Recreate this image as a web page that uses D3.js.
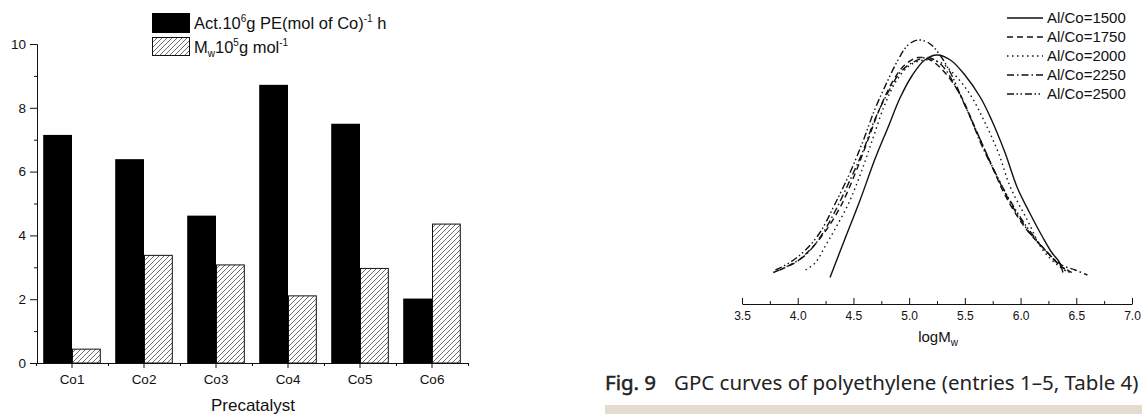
<!DOCTYPE html>
<html>
<head>
<meta charset="utf-8">
<script src="https://cdn.jsdelivr.net/npm/d3@7"></script>
<style>
  body { margin: 0; background: #fff; }
  svg { display: block; }
  .ax text { font-family: "Liberation Sans", Arial, sans-serif; fill: #111; }
  .ax path, .ax line { stroke: #111; stroke-width: 1; }
</style>
</head>
<body>
<svg id="fig" width="1142" height="414"></svg>
<script>
// bar chart data
const categories = ["Co1", "Co2", "Co3", "Co4", "Co5", "Co6"];
const activity = [7.15, 6.39, 4.62, 8.72, 7.5, 2.02];
const mwValues = [0.45, 3.39, 3.09, 2.12, 2.98, 4.37];
const barTicks = [0, 2, 4, 6, 8, 10];

// GPC curves [logMw, normalised intensity]
const gpc1500 = [[4.29,0.05],[4.42,0.20],[4.56,0.36],[4.69,0.52],[4.81,0.65],[4.92,0.77],[5.03,0.86],[5.14,0.92],[5.25,0.94],[5.37,0.92],[5.50,0.86],[5.64,0.77],[5.74,0.68],[5.86,0.55],[5.97,0.41],[6.08,0.31],[6.20,0.21],[6.28,0.15],[6.35,0.11],[6.38,0.07]];
const gpc1750 = [[3.84,0.08],[3.98,0.11],[4.11,0.16],[4.24,0.23],[4.38,0.33],[4.51,0.46],[4.63,0.60],[4.74,0.73],[4.86,0.84],[4.96,0.90],[5.08,0.93],[5.19,0.92],[5.32,0.87],[5.46,0.78],[5.59,0.65],[5.73,0.51],[5.86,0.38],[6.04,0.25],[6.22,0.16],[6.35,0.10],[6.44,0.07]];
const gpc2000 = [[4.07,0.08],[4.16,0.11],[4.24,0.17],[4.33,0.24],[4.45,0.34],[4.56,0.46],[4.67,0.60],[4.78,0.74],[4.89,0.84],[5.01,0.90],[5.14,0.92],[5.28,0.91],[5.41,0.86],[5.55,0.78],[5.68,0.67],[5.80,0.55],[5.91,0.41],[6.06,0.28],[6.20,0.16],[6.33,0.10],[6.43,0.07]];
const gpc2250 = [[3.78,0.07],[3.93,0.10],[4.07,0.14],[4.20,0.21],[4.33,0.31],[4.47,0.44],[4.59,0.56],[4.69,0.68],[4.81,0.79],[4.92,0.87],[5.03,0.91],[5.17,0.93],[5.29,0.90],[5.41,0.82],[5.53,0.71],[5.65,0.58],[5.78,0.46],[5.92,0.34],[6.08,0.23],[6.24,0.15],[6.37,0.10],[6.49,0.08],[6.60,0.06]];
const gpc2500 = [[3.80,0.08],[3.93,0.11],[4.07,0.16],[4.20,0.23],[4.33,0.34],[4.47,0.47],[4.59,0.60],[4.69,0.72],[4.80,0.83],[4.90,0.92],[4.99,0.98],[5.08,1.00],[5.17,0.99],[5.26,0.95],[5.37,0.87],[5.48,0.76],[5.61,0.63],[5.74,0.50],[5.89,0.37],[6.06,0.25],[6.22,0.16],[6.35,0.10],[6.46,0.07]];
const gpcLabels = ["Al/Co=1500", "Al/Co=1750", "Al/Co=2000", "Al/Co=2250", "Al/Co=2500"];
const logTicks = [3.5, 4.0, 4.5, 5.0, 5.5, 6.0, 6.5, 7.0];

const svg = d3.select("#fig");

const defs = svg.append("defs");
defs.append("pattern")
  .attr("id", "hatch")
  .attr("patternUnits", "userSpaceOnUse")
  .attr("width", 5).attr("height", 5)
  .call(p => {
    p.append("rect").attr("width", 5).attr("height", 5).attr("fill", "#fff");
    p.append("path")
      .attr("d", "M-1,1 l2,-2 M0,5 l5,-5 M4,6 l2,-2")
      .attr("stroke", "#444").attr("stroke-width", 0.8);
  });

// ---------- left: bar chart ----------
const x = d3.scaleBand().domain(categories).range([36, 468])
  .paddingInner(0.2).paddingOuter(0.1);
const xSub = d3.scaleBand().domain(["act", "mw"]).range([0, x.bandwidth()]);
const y = d3.scaleLinear().domain([0, 10]).range([363, 44]);

const bars = svg.append("g");
bars.selectAll(".act").data(activity).join("rect")
  .attr("x", (d, i) => x(categories[i]) + xSub("act"))
  .attr("y", d => y(d))
  .attr("width", xSub.bandwidth())
  .attr("height", d => y(0) - y(d))
  .attr("fill", "#000");
bars.selectAll(".mw").data(mwValues).join("rect")
  .attr("x", (d, i) => x(categories[i]) + xSub("mw") + 0.5)
  .attr("y", d => y(d) + 0.5)
  .attr("width", xSub.bandwidth() - 1)
  .attr("height", d => y(0) - y(d) - 0.5)
  .attr("fill", "url(#hatch)")
  .attr("stroke", "#111").attr("stroke-width", 1);

const slots = d3.scaleLinear().domain([0, 6]).range([36, 468]);
svg.append("g").attr("class", "ax")
  .attr("transform", `translate(0,${y(0)})`)
  .call(d3.axisBottom(slots).tickValues(d3.range(0, 7)).tickFormat("").tickSize(3).tickSizeOuter(0));
svg.append("g").attr("class", "ax")
  .attr("transform", `translate(0,${y(0)})`)
  .call(d3.axisBottom(x).tickSize(5).tickSizeOuter(0).tickPadding(6))
  .call(g => g.select(".domain").remove())
  .selectAll("text").attr("font-size", 13.5);

svg.append("g").attr("class", "ax")
  .attr("transform", "translate(37,0)")
  .call(d3.axisLeft(y).tickValues([1, 3, 5, 7, 9]).tickFormat("").tickSize(3).tickSizeOuter(0));
svg.append("g").attr("class", "ax")
  .attr("transform", "translate(37,0)")
  .call(d3.axisLeft(y).tickValues(barTicks).tickSize(7).tickSizeOuter(0).tickPadding(4))
  .selectAll("text").attr("font-size", 13.5);

svg.append("text")
  .attr("x", 253).attr("y", 411)
  .attr("text-anchor", "middle")
  .attr("font-family", "Liberation Sans, Arial, sans-serif")
  .attr("font-size", 17).attr("fill", "#111")
  .text("Precatalyst");

// legend (left)
const lg = svg.append("g").attr("font-family", "Liberation Sans, Arial, sans-serif").attr("fill", "#111");
lg.append("rect").attr("x", 152).attr("y", 13).attr("width", 38).attr("height", 20).attr("fill", "#000");
lg.append("rect").attr("x", 152.5).attr("y", 37.5).attr("width", 37).attr("height", 18)
  .attr("fill", "url(#hatch)").attr("stroke", "#111");
const t1 = lg.append("text").attr("x", 194).attr("y", 29).attr("font-size", 16.5);
t1.append("tspan").text("Act.10");
t1.append("tspan").attr("font-size", 10).attr("dy", -7).text("6");
t1.append("tspan").attr("dy", 7).text("g PE(mol of Co)");
t1.append("tspan").attr("font-size", 10).attr("dy", -7).text("-1");
t1.append("tspan").attr("dy", 7).text(" h");
const t2 = lg.append("text").attr("x", 194).attr("y", 53).attr("font-size", 16.5);
t2.append("tspan").text("M");
t2.append("tspan").attr("font-size", 10).attr("dy", 4).text("w");
t2.append("tspan").attr("dy", -4).text("10");
t2.append("tspan").attr("font-size", 10).attr("dy", -7).text("5");
t2.append("tspan").attr("dy", 7).text("g mol");
t2.append("tspan").attr("font-size", 10).attr("dy", -7).text("-1");

// ---------- right: GPC curves ----------
const xr = d3.scaleLinear().domain([3.5, 7.0]).range([742, 1132]);
const yr = d3.scaleLinear().domain([0, 1]).range([290, 40]);
const series = [gpc1500, gpc1750, gpc2000, gpc2250, gpc2500];
const dashes = ["none", "6,4", "1.5,3.5", "7,3,1.5,3", "7,2.5,1.5,2.5,1.5,3"];

const line = d3.line()
  .x(d => xr(d[0]))
  .y(d => yr(d[1]))
  .curve(d3.curveCatmullRom.alpha(0.5));

svg.append("g").selectAll("path").data(series).join("path")
  .attr("d", line)
  .attr("fill", "none")
  .attr("stroke", "#111")
  .attr("stroke-width", 1.4)
  .attr("stroke-dasharray", (d, i) => dashes[i]);

const minor = d3.range(3.75, 7, 0.5);
svg.append("g").attr("class", "ax")
  .attr("transform", "translate(0,304)")
  .call(d3.axisBottom(xr).tickValues(minor).tickFormat("").tickSize(-3).tickSizeOuter(0))
  .call(g => g.select(".domain").remove());
svg.append("g").attr("class", "ax")
  .attr("transform", "translate(0,304)")
  .call(d3.axisBottom(xr).tickValues(logTicks).tickFormat(d3.format(".1f")).tickSize(-6).tickSizeOuter(0).tickPadding(7))
  .selectAll("text").attr("font-size", 12);

const xl = svg.append("text")
  .attr("x", 938).attr("y", 342)
  .attr("text-anchor", "middle")
  .attr("font-family", "Liberation Sans, Arial, sans-serif")
  .attr("font-size", 15).attr("fill", "#111");
xl.append("tspan").text("logM");
xl.append("tspan").attr("font-size", 10).attr("dy", 4).text("w");

// legend (right)
const rl = svg.append("g").attr("font-family", "Liberation Sans, Arial, sans-serif");
gpcLabels.forEach((lab, i) => {
  const cy = 18 + i * 19;
  rl.append("line")
    .attr("x1", 1007).attr("x2", 1043).attr("y1", cy).attr("y2", cy)
    .attr("stroke", "#111").attr("stroke-width", 1.4)
    .attr("stroke-dasharray", dashes[i]);
  rl.append("text")
    .attr("x", 1047).attr("y", cy + 5)
    .attr("font-size", 15).attr("fill", "#111")
    .text(lab);
});

// caption
const cap = svg.append("text")
  .attr("x", 605).attr("y", 390)
  .attr("font-family", "Noto Sans, sans-serif")
  .attr("font-size", 20.5).attr("fill", "#222");
cap.append("tspan").attr("stroke", "#222").attr("stroke-width", 0.5).text("Fig. 9");
cap.append("tspan").attr("x", 674).text("GPC curves of polyethylene (entries 1–5, Table 4)");

svg.append("rect")
  .attr("x", 605).attr("y", 405).attr("width", 537).attr("height", 9)
  .attr("fill", "#e3ddcf");
</script>
</body>
</html>
